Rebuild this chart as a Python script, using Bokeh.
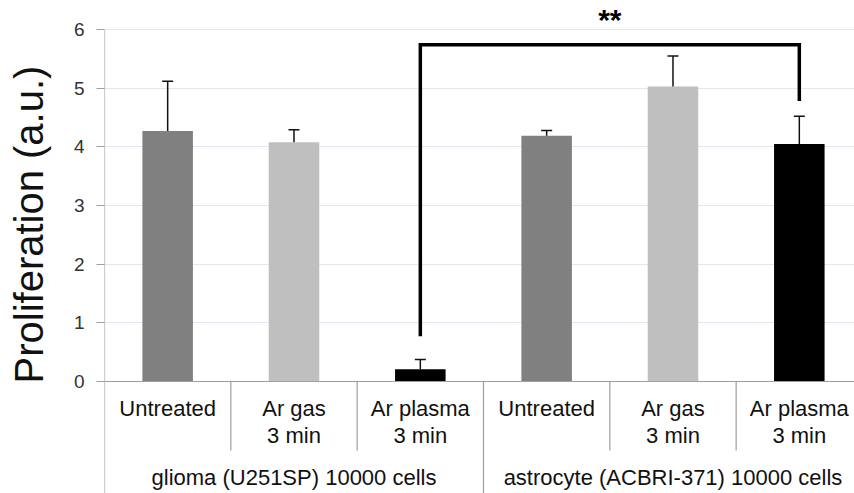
from bokeh.plotting import figure
from bokeh.models import Range1d, FixedTicker, ColumnDataSource, Title, LinearAxis
from bokeh.core.properties import value
from bokeh.embed import file_html
from bokeh.resources import INLINE

# ---- data ----
groups = ["glioma (U251SP) 10000 cells", "astrocyte (ACBRI-371) 10000 cells"]
cat_line1 = ["Untreated", "Ar gas", "Ar plasma", "Untreated", "Ar gas", "Ar plasma"]
cat_line2 = ["", "3 min", "3 min", "", "3 min", "3 min"]
means = [4.27, 4.08, 0.21, 4.19, 5.03, 4.05]
err_top = [5.12, 4.29, 0.375, 4.28, 5.55, 4.52]
colors = ["#808080", "#bfbfbf", "#000000", "#808080", "#bfbfbf", "#000000"]
y_ticks = [0, 1, 2, 3, 4, 5, 6]
y_label = "Proliferation (a.u.)"
sig_text = "**"
sig_pair = [2, 5]          # indices of compared bars
sig_level = 5.74
sig_leg_bottoms = [0.77, 4.78]

FONT = "Liberation Sans"
GRAY = "#9e9e9e"

n = len(means)
xc = [i + 0.5 for i in range(n)]

# pixel scales: 126.33 px per category, 58.67 px per unit; y=0 at 381 px from top
px_x = 126.33
px_y = 352 / 6.0
W, H = 854, 493
left = 104
y0_px = 381
y_top = y0_px / px_y
y_bot = -(H - y0_px) / px_y

p = figure(width=W, height=H, output_backend="svg", toolbar_location=None,
           x_range=Range1d(0, (W - left) / px_x), y_range=Range1d(y_bot, y_top),
           x_axis_location=None, min_border_left=left, min_border_right=0,
           min_border_top=0, min_border_bottom=0)
p.outline_line_color = None
p.xgrid.visible = False
p.ygrid.ticker = FixedTicker(ticks=y_ticks[1:])
p.ygrid.grid_line_color = "#e3e7f0"
p.ygrid.grid_line_width = 1

ax = p.yaxis[0]
ax.ticker = FixedTicker(ticks=y_ticks)
ax.axis_line_color = None
ax.major_tick_out = 8
ax.major_tick_in = 0
ax.major_tick_line_color = GRAY
ax.minor_tick_line_color = None
ax.major_label_text_font = FONT
ax.major_label_text_font_size = "19px"
ax.major_label_text_color = "#333333"
ax.major_label_standoff = 12

# blank spacer axis: leaves a gap between the tick labels and the axis title
spacer = LinearAxis(ticker=FixedTicker(ticks=y_ticks[:1]), axis_line_color=None,
                    major_tick_out=20, major_tick_in=0, major_tick_line_color=None,
                    minor_tick_line_color=None, major_label_standoff=5,
                    major_label_overrides={y_ticks[0]: ""})
p.add_layout(spacer, "left")

# y-axis label as a left title, text starting above the frame bottom
p.add_layout(Title(text=y_label, align="left", offset=110, standoff=0,
                   text_font=FONT, text_font_size="40px", text_font_style="normal",
                   text_color="#111111"), "left")

# bars
src = ColumnDataSource(dict(x=xc, top=means, color=colors))
p.vbar(x="x", top="top", width=0.4, bottom=0, fill_color="color", line_color=None, source=src)

# error bars (upward only)
cap = 11 / px_x
p.segment(x0=xc, y0=means, x1=xc, y1=err_top, line_color="#111111", line_width=1.5)
p.segment(x0=[x - cap / 2 for x in xc], y0=err_top, x1=[x + cap / 2 for x in xc], y1=err_top,
          line_color="#111111", line_width=1.5)

# axis lines and category separators
p.segment(x0=[0], y0=[y_ticks[-1]], x1=[0], y1=[y_bot], line_color=GRAY, line_width=1.2)
p.segment(x0=[0], y0=[0], x1=[n], y1=[0], line_color=GRAY, line_width=1.2)
sep_small = [1, 2, 4, 5]
p.segment(x0=sep_small, y0=[0] * 4, x1=sep_small, y1=[-69 / px_y] * 4, line_color=GRAY, line_width=1.2)
sep_big = [3, 6]
p.segment(x0=sep_big, y0=[0] * 2, x1=sep_big, y1=[y_bot] * 2, line_color=GRAY, line_width=1.2)

# category labels
single = [i for i in range(n) if cat_line2[i] == ""]
double = [i for i in range(n) if cat_line2[i] != ""]
txt = dict(text_align="center", text_baseline="middle", text_font=value(FONT),
           text_font_size="22px", text_color="#111111")
p.text(x=[xc[i] for i in single], y=[-27 / px_y] * len(single), text=[cat_line1[i] for i in single], **txt)
p.text(x=[xc[i] for i in double], y=[-27 / px_y] * len(double), text=[cat_line1[i] for i in double], **txt)
p.text(x=[xc[i] for i in double], y=[-54 / px_y] * len(double), text=[cat_line2[i] for i in double], **txt)
p.text(x=[1.5, 4.5], y=[-96 / px_y] * 2, text=groups, **txt)

# significance bracket
a, b = xc[sig_pair[0]], xc[sig_pair[1]]
p.line(x=[a, a, b, b], y=[sig_leg_bottoms[0], sig_level, sig_level, sig_leg_bottoms[1]],
       line_color="black", line_width=3.5, line_join="miter")
p.text(x=[(a + b) / 2], y=[362 / px_y], text=[sig_text], text_align="center",
       text_baseline="middle", text_font=value(FONT), text_font_style="bold",
       text_font_size="30px", text_color="black")

open("out.html", "w").write(file_html(p, INLINE))
